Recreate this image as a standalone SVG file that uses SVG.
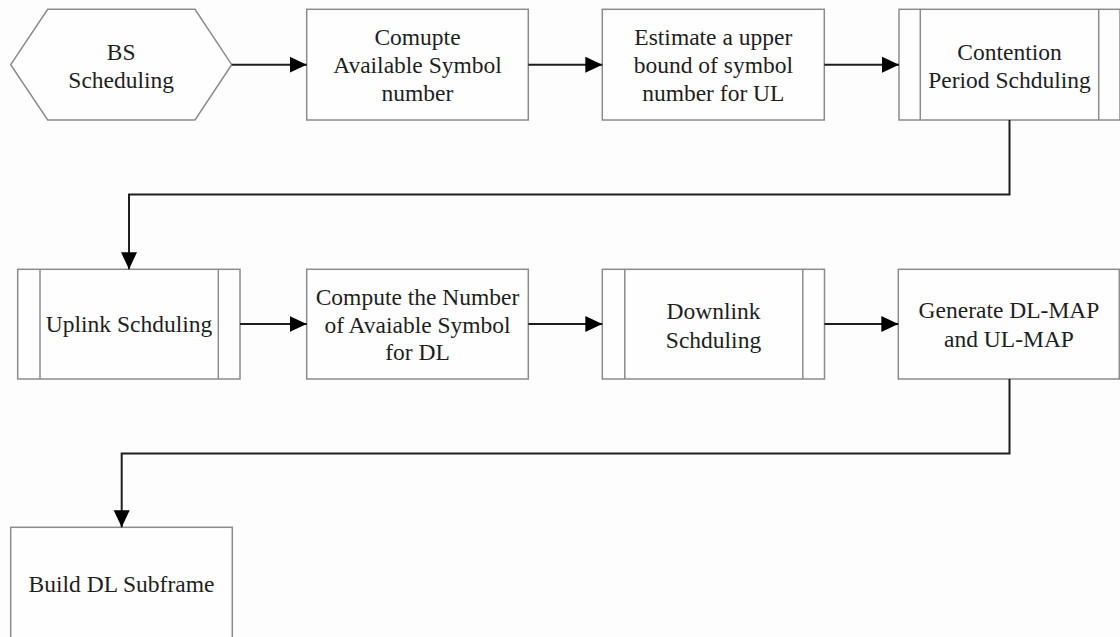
<svg xmlns="http://www.w3.org/2000/svg" width="1120" height="637" viewBox="0 0 1120 637">
  <style>
    .shape { fill: #fefefe; stroke: #8c8c8c; stroke-width: 1.5; }
    .bar { fill: none; stroke: #8c8c8c; stroke-width: 1.5; }
    .label { font-family: "Liberation Serif", "Times New Roman", serif; font-size: 23.5px; fill: #1e1e1e; text-anchor: middle; }
    .link { fill: none; stroke: #1e1e1e; stroke-width: 2; marker-end: url(#arrow); }
  </style>
  <defs>
    <marker id="arrow" markerUnits="userSpaceOnUse" markerWidth="18" markerHeight="17" refX="17" refY="8" orient="auto">
      <path d="M0,0 L17,8 L0,16 Z" fill="#000"/>
    </marker>
  </defs>
  <rect width="1120" height="637" fill="#fdfdfd"/>

  <!-- row 1 -->
  <g id="bs-scheduling">
    <polygon class="shape" points="10.7,64.7 47.7,9.3 195,9.3 231.7,64.7 195,120 47.7,120"/>
    <text class="label" x="121.2" y="59.5">BS</text>
    <text class="label" x="121.2" y="87.5">Scheduling</text>
  </g>
  <g id="compute-available">
    <rect class="shape" x="306.7" y="9.3" width="221.6" height="110.7"/>
    <text class="label" x="417.5" y="45">Comupte</text>
    <text class="label" x="417.5" y="73">Available Symbol</text>
    <text class="label" x="417.5" y="101">number</text>
  </g>
  <g id="estimate-upper-bound">
    <rect class="shape" x="602.3" y="9.3" width="222" height="110.7"/>
    <text class="label" x="713.3" y="45">Estimate a upper</text>
    <text class="label" x="713.3" y="73">bound of symbol</text>
    <text class="label" x="713.3" y="101">number for UL</text>
  </g>
  <g id="contention-period">
    <rect class="shape" x="899" y="9.3" width="221" height="110.7"/>
    <line class="bar" x1="920.3" y1="9.3" x2="920.3" y2="120"/>
    <line class="bar" x1="1098.7" y1="9.3" x2="1098.7" y2="120"/>
    <text class="label" x="1009.5" y="59.5">Contention</text>
    <text class="label" x="1009.5" y="87.5">Period Schduling</text>
  </g>

  <!-- row 2 -->
  <g id="uplink-scheduling">
    <rect class="shape" x="17.7" y="269.3" width="222.3" height="109.7"/>
    <line class="bar" x1="40" y1="269.3" x2="40" y2="379"/>
    <line class="bar" x1="218.3" y1="269.3" x2="218.3" y2="379"/>
    <text class="label" x="129" y="332">Uplink Schduling</text>
  </g>
  <g id="compute-dl-symbols">
    <rect class="shape" x="306.7" y="269.3" width="221.6" height="109.7"/>
    <text class="label" x="417.5" y="304.5">Compute the Number</text>
    <text class="label" x="417.5" y="332.5">of Avaiable Symbol</text>
    <text class="label" x="417.5" y="360">for DL</text>
  </g>
  <g id="downlink-scheduling">
    <rect class="shape" x="602.3" y="269.3" width="222.2" height="109.7"/>
    <line class="bar" x1="624.8" y1="269.3" x2="624.8" y2="379"/>
    <line class="bar" x1="802.8" y1="269.3" x2="802.8" y2="379"/>
    <text class="label" x="713.5" y="319">Downlink</text>
    <text class="label" x="713.5" y="347.5">Schduling</text>
  </g>
  <g id="generate-maps">
    <rect class="shape" x="898.3" y="269.3" width="221" height="109.7"/>
    <text class="label" x="1009" y="318">Generate DL-MAP</text>
    <text class="label" x="1009" y="346.5">and UL-MAP</text>
  </g>

  <!-- row 3 -->
  <g id="build-dl-subframe">
    <rect class="shape" x="10.7" y="527.3" width="221.6" height="112"/>
    <text class="label" x="121.5" y="591.5">Build DL Subframe</text>
  </g>

  <!-- connectors -->
  <g id="connectors">
    <path class="link" d="M231.7,64.7 H306.7"/>
    <path class="link" d="M528.3,64.7 H602.3"/>
    <path class="link" d="M824.3,64.7 H899"/>
    <path class="link" d="M1009.5,120 V194.5 H129 V269.3"/>
    <path class="link" d="M240,324 H306.7"/>
    <path class="link" d="M528.3,324 H602.3"/>
    <path class="link" d="M824.5,324 H898.3"/>
    <path class="link" d="M1009.5,379 V453.5 H121.7 V527.3"/>
  </g>
</svg>
